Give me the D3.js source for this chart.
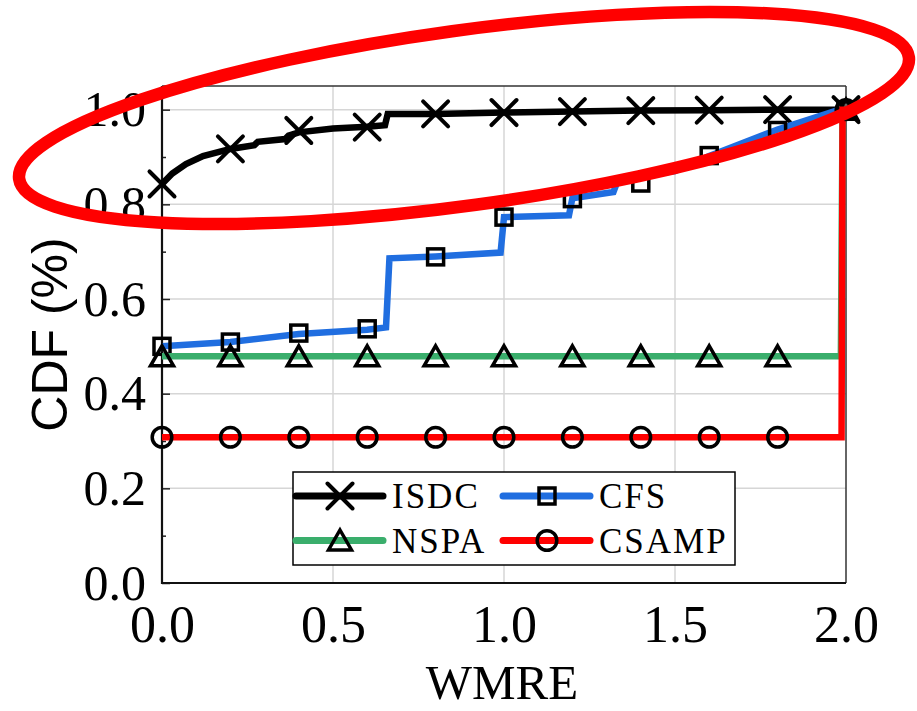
<!DOCTYPE html>
<html>
<head>
<meta charset="utf-8">
<script src="https://cdn.jsdelivr.net/npm/d3@7"></script>
<style>
  html, body { margin: 0; padding: 0; background: #fff; }
  svg { display: block; }
</style>
</head>
<body>
<div id="chart"></div>
<script>
// ---------- data ----------
const seriesNames = ["ISDC", "CFS", "NSPA", "CSAMP"];
const markerX = [0, 0.2, 0.4, 0.6, 0.8, 1.0, 1.2, 1.4, 1.6, 1.8, 2.0];

const isdcX = [0, 0.03, 0.07, 0.12, 0.2, 0.27, 0.28, 0.36, 0.37, 0.4, 0.5, 0.6, 0.652, 0.66, 0.8, 1.0, 1.2, 1.4, 1.6, 1.8, 2.0];
const isdcY = [0.843, 0.865, 0.885, 0.902, 0.917, 0.925, 0.932, 0.938, 0.945, 0.952, 0.960, 0.964, 0.967, 0.991, 0.991, 0.994, 0.996, 0.998, 0.999, 1.0, 1.0];
const isdcMarkY = [0.843, 0.917, 0.956, 0.963, 0.991, 0.994, 0.996, 0.998, 0.999, 1.0, 1.0];

const cfsX = [0, 0.2, 0.4, 0.6, 0.655, 0.665, 0.8, 0.99, 1.0, 1.19, 1.2, 1.32, 1.335, 1.4, 1.5, 1.6, 1.8, 1.98, 2.0];
const cfsY = [0.500, 0.509, 0.526, 0.535, 0.540, 0.686, 0.690, 0.698, 0.773, 0.777, 0.813, 0.826, 0.855, 0.861, 0.870, 0.902, 0.958, 1.0, 1.0];
const cfsMarkY = [0.500, 0.509, 0.528, 0.537, 0.689, 0.773, 0.812, 0.845, 0.903, 0.956, 1.0];

const nspaX = [0, 1.985, 1.99, 2.0];
const nspaY = [0.479, 0.479, 1.0, 1.0];
const nspaMarkY = [0.479, 0.479, 0.479, 0.479, 0.479, 0.479, 0.479, 0.479, 0.479, 0.479, 1.0];

const csampX = [0, 1.987, 1.99, 2.0];
const csampY = [0.308, 0.308, 1.0, 1.0];
const csampMarkY = [0.308, 0.308, 0.308, 0.308, 0.308, 0.308, 0.308, 0.308, 0.308, 0.308, 1.0];

const xTicks = [0, 0.5, 1.0, 1.5, 2.0];
const xTickLabels = ["0.0", "0.5", "1.0", "1.5", "2.0"];
const yTicks = [0, 0.2, 0.4, 0.6, 0.8, 1.0];
const yTickLabels = ["0.0", "0.2", "0.4", "0.6", "0.8", "1.0"];
const yMinorTicks = [0.1, 0.3, 0.5, 0.7, 0.9];
const xTitle = "WMRE";
const yTitle = "CDF (%)";

// ---------- setup ----------
const W = 917, H = 711;
const pL = 162, pR = 846, pT = 86, pB = 583;
const serif = "'Liberation Serif', 'Times New Roman', serif";
const sans = "'Liberation Sans', Arial, sans-serif";

const svg = d3.select("#chart").append("svg").attr("width", W).attr("height", H);
const x = d3.scaleLinear().domain([0, 2]).range([pL, pR]);
const y = d3.scaleLinear().domain([0, 1.05]).range([pB, pT]);

// grid
const grid = svg.append("g").attr("stroke", "#d6d6d6").attr("stroke-width", 1.5);
grid.selectAll(".gx").data(xTicks.slice(1, -1)).join("line")
  .attr("x1", d => x(d)).attr("x2", d => x(d)).attr("y1", pT).attr("y2", pB);
grid.selectAll(".gy").data(yTicks.slice(1)).join("line")
  .attr("x1", pL).attr("x2", pR).attr("y1", d => y(d)).attr("y2", d => y(d));

// frame top/right
svg.append("line").attr("x1", pL).attr("x2", pR).attr("y1", pT).attr("y2", pT)
  .attr("stroke", "#333").attr("stroke-width", 1.5);
svg.append("line").attr("x1", pR).attr("x2", pR).attr("y1", pT).attr("y2", pB)
  .attr("stroke", "#333").attr("stroke-width", 1.5);

// y axis (major)
const yAxis = svg.append("g").attr("transform", `translate(${pL},0)`)
  .call(d3.axisLeft(y).tickValues(yTicks).tickFormat((d, i) => yTickLabels[i]).tickSize(-8).tickPadding(16));
yAxis.select(".domain").remove();
yAxis.selectAll(".tick line").attr("stroke", "#222").attr("stroke-width", 1.5);
yAxis.selectAll("text").attr("font-family", serif).attr("font-size", 50).attr("fill", "#000");
// y axis minor
const yMinor = svg.append("g").attr("transform", `translate(${pL},0)`)
  .call(d3.axisLeft(y).tickValues(yMinorTicks).tickFormat("").tickSize(-4));
yMinor.select(".domain").remove();
yMinor.selectAll(".tick line").attr("stroke", "#222").attr("stroke-width", 1.5);

// x axis
const xAxis = svg.append("g").attr("transform", `translate(0,${pB})`)
  .call(d3.axisBottom(x).tickValues(xTicks).tickFormat((d, i) => xTickLabels[i]).tickSize(0).tickPadding(22));
xAxis.select(".domain").remove();
xAxis.selectAll("text").attr("font-family", serif).attr("font-size", 52).attr("fill", "#000");

// left/bottom frame
svg.append("line").attr("x1", pL).attr("x2", pL).attr("y1", pT).attr("y2", pB + 1)
  .attr("stroke", "#111").attr("stroke-width", 2.2);
svg.append("line").attr("x1", pL - 1).attr("x2", pR).attr("y1", pB).attr("y2", pB)
  .attr("stroke", "#111").attr("stroke-width", 2.2);

// titles
svg.append("text").attr("x", (pL + pR) / 2 - 2).attr("y", 699)
  .attr("text-anchor", "middle").attr("font-family", serif).attr("font-size", 49).text(xTitle);
svg.append("text").attr("transform", `translate(67,${(pT + pB) / 2}) rotate(-90)`)
  .attr("text-anchor", "middle").attr("font-family", sans).attr("font-size", 50).text(yTitle);

// ---------- series ----------
const series = [
  { name: seriesNames[0], xs: isdcX, ys: isdcY, my: isdcMarkY, color: "#000000", marker: "x" },
  { name: seriesNames[1], xs: cfsX, ys: cfsY, my: cfsMarkY, color: "#206ee0", marker: "square" },
  { name: seriesNames[2], xs: nspaX, ys: nspaY, my: nspaMarkY, color: "#3aae6c", marker: "triangle" },
  { name: seriesNames[3], xs: csampX, ys: csampY, my: csampMarkY, color: "#ff0000", marker: "circle" }
];

function drawMarker(g, type, cx, cy) {
  const m = g.append("g").attr("transform", `translate(${cx},${cy})`)
    .attr("fill", "none").attr("stroke", "#000");
  if (type === "x") {
    const s = 12.5;
    m.append("path").attr("d", `M${-s},${-s}L${s},${s}M${-s},${s}L${s},${-s}`)
      .attr("stroke-width", 4).attr("stroke-linecap", "round");
  } else if (type === "square") {
    m.append("rect").attr("x", -8).attr("y", -8).attr("width", 16).attr("height", 16)
      .attr("stroke-width", 3.5);
  } else if (type === "triangle") {
    m.append("path").attr("d", "M0,-10.5L11.5,9.5L-11.5,9.5Z")
      .attr("stroke-width", 3.5).attr("stroke-linejoin", "miter");
  } else {
    m.append("circle").attr("r", 9.8).attr("stroke-width", 3.5);
  }
}

const lineGen = d3.line().x(d => x(d[0])).y(d => y(d[1]));
series.forEach(s => {
  const pts = s.xs.map((v, i) => [v, s.ys[i]]);
  svg.append("path").datum(pts).attr("d", lineGen)
    .attr("fill", "none").attr("stroke", s.color).attr("stroke-width", 6.5)
    .attr("stroke-linejoin", "miter");
  const mg = svg.append("g");
  markerX.forEach((mx, i) => drawMarker(mg, s.marker, x(mx), y(s.my[i])));
});

// ---------- legend ----------
const lg = svg.append("g");
lg.append("rect").attr("x", 293).attr("y", 472).attr("width", 442).attr("height", 93)
  .attr("fill", "#fff").attr("stroke", "#000").attr("stroke-width", 1.5);
const legPos = [
  { lx: 296, ly: 496 }, { lx: 503, ly: 496 },
  { lx: 296, ly: 540.5 }, { lx: 503, ly: 540.5 }
];
series.forEach((s, i) => {
  const p = legPos[i];
  lg.append("line").attr("x1", p.lx).attr("x2", p.lx + 87).attr("y1", p.ly).attr("y2", p.ly)
    .attr("stroke", s.color).attr("stroke-width", 7).attr("stroke-linecap", "round");
  drawMarker(lg, s.marker, p.lx + 44, p.ly);
  lg.append("text").attr("x", p.lx + 96).attr("y", p.ly + 12)
    .attr("font-family", serif).attr("font-size", 35).attr("letter-spacing", 2)
    .text(s.name);
});

// ---------- annotation ellipse ----------
svg.append("ellipse").attr("cx", 464).attr("cy", 118).attr("rx", 449).attr("ry", 87.6)
  .attr("transform", "rotate(-7.8,464,118)")
  .attr("fill", "none").attr("stroke", "#ff0000").attr("stroke-width", 12.5);
</script>
</body>
</html>
